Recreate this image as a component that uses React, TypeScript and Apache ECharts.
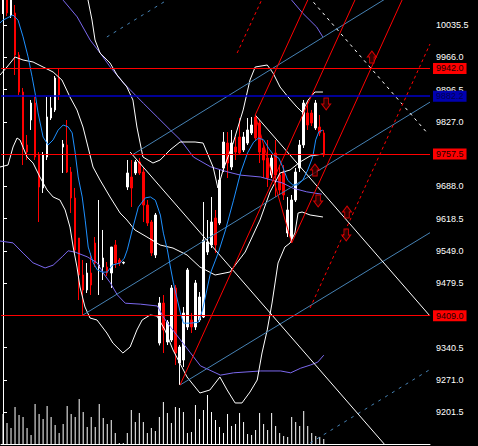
import React, { useEffect, useRef } from "react";
import * as echarts from "echarts";

const SLOTS = 107;
const Y_MIN = 9132.6;
const Y_MAX = 10089.4;

const opens = [10067.9, 10095.9, 10057.1, 10061.4, 9970.9, 9891.1, 9776.9, 9830.8, 9867.4, 9755.4, 9684.3, 9751.1, 9835.1, 9852.4, 9921.3, 9772.6, 9776.9, 9718.7, 9662.7, 9576.5, 9496.8, 9464.5, 9501.1, 9565.7, 9511.9, 9514.0, 9514.0, 9501.1, 9561.4, 9529.1, 9522.6, 9686.4, 9708.0, 9716.6, 9740.3, 9718.7, 9647.6, 9611.0, 9539.9, 9350.2, 9436.4, 9352.4, 9356.7, 9468.8, 9307.1, 9313.6, 9384.7, 9399.8, 9384.7, 9399.8, 9406.3, 9546.3, 9561.4, 9619.6, 9608.8, 9727.4, 9781.2, 9729.5, 9772.6, 9794.2, 9766.2, 9781.2, 9802.8, 9837.3, 9824.3, 9770.5, 9748.9, 9712.3, 9759.7, 9712.3, 9718.7, 9587.3, 9576.5, 9658.4, 9727.4, 9776.9, 9845.9, 9845.9, 9813.6, 9815.7, 9802.8];
const closes = [10100.0, 10061.4, 10095.9, 9970.9, 9891.1, 9772.6, 9761.8, 9867.4, 9751.1, 9686.4, 9755.4, 9837.3, 9856.7, 9921.3, 9884.7, 9779.1, 9718.7, 9662.7, 9550.6, 9496.8, 9464.5, 9501.1, 9475.2, 9522.6, 9518.3, 9533.4, 9501.1, 9557.1, 9522.6, 9522.6, 9524.0, 9716.6, 9684.3, 9740.3, 9716.6, 9647.6, 9608.8, 9544.2, 9626.1, 9436.4, 9378.3, 9395.5, 9468.8, 9328.7, 9341.6, 9414.9, 9507.6, 9384.7, 9479.5, 9449.4, 9572.2, 9567.9, 9611.0, 9561.4, 9701.5, 9783.4, 9738.1, 9781.2, 9761.8, 9759.7, 9794.2, 9809.3, 9820.0, 9792.0, 9761.8, 9744.6, 9705.8, 9748.9, 9712.3, 9679.9, 9669.2, 9636.9, 9658.4, 9718.7, 9776.9, 9867.4, 9820.0, 9824.3, 9867.4, 9802.8, 9755.4];
const lows = [10059.2, 10054.9, 10050.6, 9927.8, 9884.7, 9733.8, 9744.6, 9809.3, 9744.6, 9611.0, 9673.5, 9744.6, 9830.8, 9848.0, 9873.9, 9716.6, 9716.6, 9630.4, 9546.3, 9442.9, 9408.4, 9458.0, 9453.7, 9514.0, 9453.7, 9486.0, 9494.6, 9468.8, 9511.9, 9516.2, 9520.0, 9679.9, 9643.3, 9712.3, 9712.3, 9611.0, 9602.4, 9537.7, 9533.4, 9345.0, 9328.7, 9345.9, 9352.4, 9302.8, 9259.7, 9298.5, 9378.3, 9371.8, 9378.3, 9395.5, 9404.1, 9539.9, 9554.9, 9544.2, 9604.5, 9718.7, 9705.8, 9723.1, 9744.6, 9755.4, 9761.8, 9776.9, 9798.5, 9787.7, 9738.1, 9705.8, 9686.4, 9705.8, 9664.9, 9669.2, 9658.4, 9578.7, 9565.7, 9654.1, 9718.7, 9770.5, 9809.3, 9817.9, 9809.3, 9796.3, 9751.1];
const highs = [10121.7, 10111.0, 10115.3, 10078.6, 9977.3, 9899.8, 9798.5, 9873.9, 9880.4, 9761.8, 9761.8, 9880.4, 9880.4, 9925.6, 9942.9, 9787.7, 9830.8, 9729.5, 9684.3, 9576.5, 9529.1, 9522.6, 9544.2, 9578.7, 9658.4, 9593.8, 9524.8, 9557.1, 9572.2, 9533.4, 9526.0, 9744.6, 9744.6, 9744.6, 9748.9, 9727.4, 9658.4, 9615.3, 9630.4, 9449.4, 9453.7, 9399.8, 9475.2, 9475.2, 9345.9, 9427.8, 9511.9, 9414.9, 9486.0, 9460.1, 9654.1, 9615.3, 9664.9, 9636.9, 9723.1, 9804.9, 9804.9, 9809.3, 9794.2, 9835.1, 9804.9, 9835.1, 9837.3, 9841.6, 9830.8, 9776.9, 9787.7, 9755.4, 9787.7, 9733.8, 9733.8, 9664.9, 9669.2, 9727.4, 9787.7, 9873.9, 9869.6, 9852.4, 9873.9, 9841.6, 9809.3];
const volumes = [3000, 2100, 1600, 3700, 2900, 2700, 1600, 900, 4000, 3000, 2500, 3800, 2700, 1900, 1100, 2000, 3800, 3000, 2700, 4500, 3200, 1700, 2700, 1700, 4000, 2600, 2000, 2400, 1100, 100, 100, 1100, 3400, 2200, 3100, 2200, 1100, 1600, 1300, 2700, 4200, 3100, 2100, 3700, 3600, 3200, 1100, 1200, 3900, 2500, 3400, 4900, 3200, 2400, 1700, 1100, 3000, 1800, 2000, 3100, 2200, 1000, 900, 1400, 3100, 2000, 1400, 3100, 1800, 1100, 800, 700, 2700, 2200, 1800, 3300, 1800, 1100, 800, 700, 500];

const priceTicks = [10035.5, 9966.0, 9896.5, 9827.0, 9757.5, 9688.0, 9618.5, 9549.0, 9479.5, 9410.0, 9340.5, 9271.0, 9201.5];
const redLevels = [9942.0, 9757.5, 9409.0];
const blueLevel = 9882.2;

const maFast = [[-0.75, 10040], [0, 10046], [2.5, 10057], [3.75, 10046], [5, 10010], [6.25, 9967], [7.25, 9924], [8, 9889], [8.75, 9846], [10, 9794], [11.25, 9777], [12.5, 9788], [13.75, 9809], [15, 9820], [16.25, 9816], [17.25, 9803], [18, 9760], [18.75, 9708], [19.75, 9665], [20.5, 9615], [21.25, 9557], [22.5, 9523], [23.5, 9508], [24.75, 9503], [26, 9503], [27.25, 9518], [29.25, 9523], [30.25, 9533], [31, 9551], [32.25, 9594], [33.75, 9643], [35.5, 9663], [36.75, 9665], [38, 9658], [39.25, 9626], [40, 9587], [41, 9551], [41.75, 9514], [42.5, 9480], [43.5, 9443], [44.25, 9415], [45, 9393], [46.75, 9393], [48.75, 9395], [49.75, 9421], [51, 9471], [51.75, 9501], [53, 9529], [53.75, 9546], [55.5, 9594], [57.5, 9658], [59.25, 9717], [61, 9760], [62.5, 9783], [63.75, 9792], [65, 9788], [66.25, 9770], [67.5, 9755], [68.75, 9749], [69.75, 9730], [71, 9701], [72.25, 9691], [73.5, 9691], [74.75, 9701], [76, 9723], [77.25, 9751], [78, 9788], [78.75, 9805], [79.75, 9809]];
const slowMid = [[11.75, 10143], [15, 10089], [18.5, 10053], [21.75, 10003], [24.25, 9975], [26.75, 9945], [30, 9911], [32.5, 9889], [35, 9867], [38.5, 9837], [41.75, 9809], [44.25, 9788], [47.5, 9751], [51.75, 9730], [56, 9719], [59.25, 9712], [64.25, 9708], [66.75, 9702], [69.75, 9695], [72.25, 9684], [75.75, 9676], [79.5, 9671]];
const slowLower = [[-0.75, 9570], [2.5, 9566], [5, 9544], [7.5, 9523], [10.5, 9512], [12.5, 9518], [14.75, 9536], [16.25, 9549], [18, 9546], [21, 9536], [23.5, 9523], [25, 9501], [26.75, 9480], [28.5, 9454], [30.5, 9436], [34.25, 9434], [38.5, 9430], [40, 9406], [41.75, 9385], [44.25, 9357], [46.75, 9329], [49.25, 9301], [54.25, 9281], [57.5, 9286], [64.25, 9290], [69.25, 9290], [71.75, 9286], [74.25, 9296], [76.75, 9303], [78.5, 9309], [80, 9324]];
const slowUpper = [[69, 10122], [72, 10089], [74.75, 10061], [78.25, 10031], [79.75, 10010]];
const bandUpper = [[20.45, 10110.9], [21.2, 10089.4], [22.2, 10046.3], [22.95, 10003.2], [24.2, 9975.2], [26.7, 9953.6], [28.45, 9927.8], [30.9, 9901.9], [32.4, 9873.9], [33.4, 9815.7], [34.9, 9751.1], [37.4, 9738.1], [39.2, 9744.6], [41.65, 9766.2], [44.15, 9783.4], [47.9, 9783.4], [49.9, 9781.2], [52.4, 9729.5], [53.6, 9684.3], [54.9, 9723.1], [57.4, 9781.2], [59.9, 9852.4], [61.6, 9917.0], [62.9, 9945.0], [65.9, 9949.3], [67.35, 9932.1], [69.1, 9901.9], [71.1, 9880.4], [73.3, 9858.8], [74.6, 9848.0], [76.1, 9873.9], [77.8, 9891.1], [79.8, 9891.1]];
const bandMiddle = [[-0.75, 9927.8], [1.0, 9945.0], [3.0, 9966.6], [5.0, 9960.1], [7.5, 9955.8], [10.0, 9945.0], [12.5, 9934.2], [14.7, 9917.0], [16.7, 9880.4], [18.45, 9852.4], [19.95, 9815.7], [21.2, 9772.6], [22.45, 9729.5], [24.2, 9701.5], [26.7, 9664.9], [29.2, 9630.4], [30.9, 9615.3], [32.9, 9593.8], [35.9, 9578.7], [39.2, 9561.4], [42.4, 9554.9], [45.9, 9539.9], [49.1, 9514.0], [52.9, 9496.8], [56.6, 9503.2], [60.4, 9546.3], [64.1, 9615.3], [66.6, 9675.6], [69.1, 9716.6], [71.6, 9723.1], [74.1, 9740.3], [76.6, 9753.2], [79.8, 9757.5]];
const bandLower = [[-0.75, 9729.5], [1.25, 9733.8], [2.5, 9772.6], [3.5, 9792.0], [4.25, 9787.7], [6.0, 9751.1], [7.5, 9738.1], [9.2, 9708.0], [11.0, 9679.9], [12.5, 9664.9], [14.2, 9658.4], [15.5, 9636.9], [16.7, 9600.2], [17.5, 9557.1], [18.45, 9514.0], [19.2, 9470.9], [20.45, 9427.8], [21.7, 9404.1], [23.45, 9399.8], [25.9, 9371.8], [27.4, 9350.2], [29.9, 9328.7], [31.7, 9341.6], [33.4, 9378.3], [34.7, 9399.8], [36.7, 9410.6], [38.4, 9408.4], [40.4, 9378.3], [42.4, 9335.2], [45.9, 9277.0], [49.1, 9242.5], [51.6, 9249.0], [54.1, 9277.0], [55.9, 9249.0], [57.9, 9221.0], [59.6, 9221.0], [61.6, 9244.6], [63.4, 9270.5], [64.6, 9328.7], [65.9, 9378.3], [67.1, 9436.4], [68.6, 9522.6], [70.3, 9557.1], [71.6, 9565.7], [72.8, 9587.3], [73.6, 9630.4], [74.6, 9632.5], [76.6, 9626.1], [79.8, 9621.8]];

const redSolidLines = [
  [[44.15, 9259.7], [90.05, 10132.5]],
  [[72.0, 9565.7], [101.8, 10132.5]],
  [[62.9, 9841.6], [78.3, 10132.5]],
  [[62.9, 9841.6], [72.0, 9565.7]],
];
const redDashedLines = [
  [[58.4, 9975.2], [66.8, 10132.5]],
  [[76.6, 9425.7], [106.5, 9994.6]],
];
const steelSolidLines = [
  [[32.2, 9755.4], [103.0, 10132.5]],
  [[19.95, 9410.6], [106.5, 9869.3]],
  [[44.15, 9259.7], [106.5, 9588.0]],
];
const steelDashedLines = [
  [[76.6, 9134.7], [106.5, 9293.2]],
  [[25.9, 10009.7], [44.15, 10106.4]],
];
const whiteSolidLines = [
  [[31.7, 9761.8], [95.3, 9130.4]],
  [[62.9, 9841.6], [106.5, 9408.4]],
];
const whiteDashedLines = [
  [[76.3, 10095.9], [105.8, 9803.0]],
];
const arrowsUp = [[92.0, 9966.6], [77.8, 9723.1], [85.8, 9632.5]];
const arrowsDown = [[80.6, 9865.3], [78.6, 9656.2], [85.6, 9583.0]];

const UP_PATH = "path://M5,0L10,6L7.5,6L7.5,12L2.5,12L2.5,6L0,6Z";
const DOWN_PATH = "path://M2.5,0L7.5,0L7.5,6L10,6L5,12L0,6L2.5,6Z";
const FONT = "Liberation Sans";

function lineSeries(data: number[][], color: string, type: any = "solid", z = 3, extra: any = {}) {
  return {
    type: "line",
    xAxisIndex: 1,
    yAxisIndex: 0,
    data,
    symbol: "none",
    showSymbol: false,
    silent: true,
    clip: true,
    z,
    lineStyle: { color, width: 1, type },
    ...extra,
  };
}

export default function App() {
  const ref = useRef<HTMLDivElement>(null);
  useEffect(() => {
    if (!ref.current) return;
    const chart = echarts.init(ref.current, undefined, { renderer: "svg" });
    const categories = Array.from({ length: SLOTS }, (_, i) => String(i));
    const candles = opens.map((o, i) => [o, closes[i], lows[i], highs[i]]);

    const levelData: any[] = redLevels.map((v) => ({
      yAxis: v,
      lineStyle: { color: "#ff0000", width: 1, type: "solid" },
      label: { backgroundColor: "#ff0000", color: "#200000" },
    }));
    levelData.push({
      yAxis: blueLevel,
      lineStyle: { color: "#0000c8", width: 1.5, type: "solid" },
      label: { backgroundColor: "#0000b0", color: "#000050" },
    });

    const series: any[] = [
      {
        type: "bar",
        xAxisIndex: 2,
        yAxisIndex: 1,
        data: volumes,
        barWidth: 1,
        itemStyle: { color: "#ffffff" },
        silent: true,
        z: 1,
      },
      {
        type: "candlestick",
        xAxisIndex: 0,
        yAxisIndex: 0,
        data: candles,
        barWidth: 2,
        clip: true,
        silent: true,
        itemStyle: {
          color: "#ffffff",
          color0: "#ff0000",
          borderColor: "#ffffff",
          borderColor0: "#ff0000",
          borderWidth: 1,
        },
        z: 2,
      },
      lineSeries(slowMid, "#7b68ee"),
      lineSeries(slowLower, "#7b68ee"),
      lineSeries(slowUpper, "#7b68ee"),
      lineSeries(bandUpper, "#ffffff"),
      lineSeries(bandMiddle, "#ffffff"),
      lineSeries(bandLower, "#ffffff"),
      lineSeries(maFast, "#1e90ff", "solid", 4),
    ];
    steelSolidLines.forEach((d) => series.push(lineSeries(d, "#4682b4")));
    steelDashedLines.forEach((d) => series.push(lineSeries(d, "#4682b4", [3, 5])));
    whiteSolidLines.forEach((d) => series.push(lineSeries(d, "#ffffff")));
    whiteDashedLines.forEach((d) => series.push(lineSeries(d, "#ffffff", [3, 4])));
    redSolidLines.forEach((d) => series.push(lineSeries(d, "#ff0000")));
    redDashedLines.forEach((d) => series.push(lineSeries(d, "#ff0000", [3, 3])));

    series.push(
      lineSeries([[0, 9700], [1, 9700]], "rgba(0,0,0,0)", "solid", 5, {
        markLine: {
          silent: true,
          symbol: ["none", "none"],
          animation: false,
          data: levelData,
          label: {
            show: true,
            position: "end",
            distance: 3,
            fontSize: 9,
            fontFamily: FONT,
            lineHeight: 9,
            padding: [1, 3, 1, 3],
            formatter: (p: any) => Number(p.value).toFixed(1),
          },
        },
      })
    );

    series.push({
      type: "scatter",
      xAxisIndex: 1,
      yAxisIndex: 0,
      data: arrowsUp,
      symbol: UP_PATH,
      symbolSize: [9, 12],
      silent: true,
      itemStyle: { color: "#3a0000", borderColor: "#ff0000", borderWidth: 1 },
      z: 6,
    });
    series.push({
      type: "scatter",
      xAxisIndex: 1,
      yAxisIndex: 0,
      data: arrowsDown,
      symbol: DOWN_PATH,
      symbolSize: [9, 12],
      silent: true,
      itemStyle: { color: "#3a0000", borderColor: "#ff0000", borderWidth: 1 },
      z: 6,
    });

    chart.setOption({
      animation: false,
      backgroundColor: "#000000",
      grid: [
        { left: 1, right: 48, top: 0, bottom: 2 },
        { left: 1, right: 48, bottom: 2, height: 100 },
      ],
      xAxis: [
        {
          type: "category",
          gridIndex: 0,
          data: categories,
          boundaryGap: true,
          axisLine: { show: true, onZero: false, lineStyle: { color: "#ffffff", width: 1 } },
          axisTick: { show: false },
          axisLabel: { show: false },
          splitLine: { show: false },
        },
        { type: "value", gridIndex: 0, min: -0.5, max: SLOTS - 0.5, show: false },
        { type: "category", gridIndex: 1, data: categories, boundaryGap: true, show: false },
      ],
      yAxis: [
        {
          type: "value",
          gridIndex: 0,
          position: "right",
          min: Y_MIN,
          max: Y_MAX,
          axisLine: { show: true, lineStyle: { color: "#ffffff", width: 1 } },
          axisTick: { show: true, length: 4, lineStyle: { color: "#ffffff" }, customValues: priceTicks },
          axisLabel: {
            show: true,
            color: "#ffffff",
            fontSize: 9,
            fontFamily: FONT,
            margin: 6,
            customValues: priceTicks,
            formatter: (v: number) => v.toFixed(1),
          },
          splitLine: { show: false },
        },
        { type: "value", gridIndex: 1, min: 0, max: 10000, show: false },
      ],
      series,
    });
    return () => chart.dispose();
  }, []);

  return (
    <div
      ref={ref}
      style={{ position: "fixed", left: 0, top: 0, width: 478, height: 446, background: "#000" }}
    />
  );
}
